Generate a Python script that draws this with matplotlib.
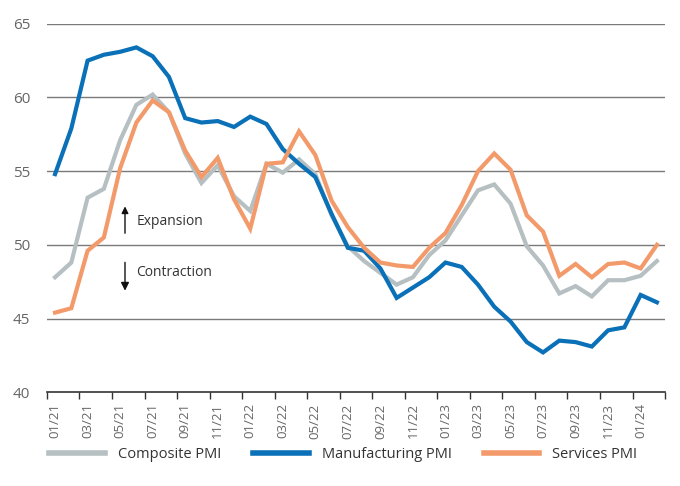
import matplotlib

matplotlib.use("Agg")
import matplotlib.pyplot as plt
import numpy as np

# Monthly PMI readings, 01/21 .. 02/24
months = [f"{m:02d}/{y}" for y in (21, 22, 23) for m in range(1, 13)] + ["01/24", "02/24"]

composite = [47.8, 48.8, 53.2, 53.8, 57.1, 59.5, 60.2, 59.0, 56.2, 54.2, 55.4, 53.3,
             52.3, 55.5, 54.9, 55.8, 54.8, 52.0, 49.9, 48.9, 48.1, 47.3, 47.8, 49.3,
             50.3, 52.0, 53.7, 54.1, 52.8, 49.9, 48.6, 46.7, 47.2, 46.5, 47.6, 47.6,
             47.9, 48.9]
manufacturing = [54.8, 57.9, 62.5, 62.9, 63.1, 63.4, 62.8, 61.4, 58.6, 58.3, 58.4, 58.0,
                 58.7, 58.2, 56.5, 55.5, 54.6, 52.1, 49.8, 49.6, 48.4, 46.4, 47.1, 47.8,
                 48.8, 48.5, 47.3, 45.8, 44.8, 43.4, 42.7, 43.5, 43.4, 43.1, 44.2, 44.4,
                 46.6, 46.1]
services = [45.4, 45.7, 49.6, 50.5, 55.2, 58.3, 59.8, 59.0, 56.4, 54.6, 55.9, 53.1,
            51.1, 55.5, 55.6, 57.7, 56.1, 53.0, 51.2, 49.8, 48.8, 48.6, 48.5, 49.8,
            50.8, 52.7, 55.0, 56.2, 55.1, 52.0, 50.9, 47.9, 48.7, 47.8, 48.7, 48.8,
            48.4, 50.0]

yticks = [40, 45, 50, 55, 60, 65]

plt.rcParams["font.family"] = ["Open Sans", "DejaVu Sans"]

fig = plt.figure(figsize=(6.8, 4.86), dpi=100)
ax = fig.add_axes([0.069, 0.193, 0.909, 0.758])

x = np.arange(len(months))
lw = 3.0
ax.plot(x, composite, color="#B6BFC1", lw=lw, label="Composite PMI", solid_joinstyle="miter")
ax.plot(x, manufacturing, color="#0A70B8", lw=lw, label="Manufacturing PMI", solid_joinstyle="miter")
ax.plot(x, services, color="#F39A6B", lw=lw, label="Services PMI", solid_joinstyle="miter")

ax.set_xlim(-0.5, len(months) - 0.5)
ax.set_ylim(40, 65)
ax.set_yticks(yticks)
ax.set_yticklabels([str(v) for v in yticks], fontsize=11, color="#666666")
ax.tick_params(axis="y", length=0, pad=12)
for v in yticks[1:]:
    ax.axhline(v, color="#7a7a7a", lw=1.0, zorder=0)

# ticks at month boundaries, labels at month centres
ax.set_xticks(np.arange(-0.5, len(months), 2))
ax.set_xticklabels([])
ax.set_xticks(x[::2], minor=True)
ax.set_xticklabels(months[::2], minor=True, rotation=90, fontsize=9.5, color="#666666")
ax.tick_params(axis="x", which="major", length=5, width=1.0, color="#333333", direction="out")
ax.tick_params(axis="x", which="minor", length=0, pad=8)

for side in ("left", "right", "top"):
    ax.spines[side].set_visible(False)
ax.spines["bottom"].set_color("#333333")
ax.spines["bottom"].set_linewidth(1.2)

# expansion / contraction markers
ax.annotate("", xy=(4.3, 52.8), xytext=(4.3, 50.6),
            arrowprops=dict(arrowstyle="-|>", color="#111111", lw=1.0, mutation_scale=10))
ax.annotate("", xy=(4.3, 46.7), xytext=(4.3, 49.0),
            arrowprops=dict(arrowstyle="-|>", color="#111111", lw=1.0, mutation_scale=12))
ax.text(5.0, 51.6, "Expansion", fontsize=10, color="#333333", va="center")
ax.text(5.0, 48.15, "Contraction", fontsize=10, color="#333333", va="center")

leg = fig.legend(loc="center", bbox_to_anchor=(0.505, 0.064), ncol=3, frameon=False,
                 handlelength=3.8, handletextpad=0.9, columnspacing=2.2, fontsize=10.5,
                 labelcolor="#333333")
for line in leg.get_lines():
    line.set_linewidth(4.0)

fig.savefig("out.png", dpi=100)
plt.close(fig)
